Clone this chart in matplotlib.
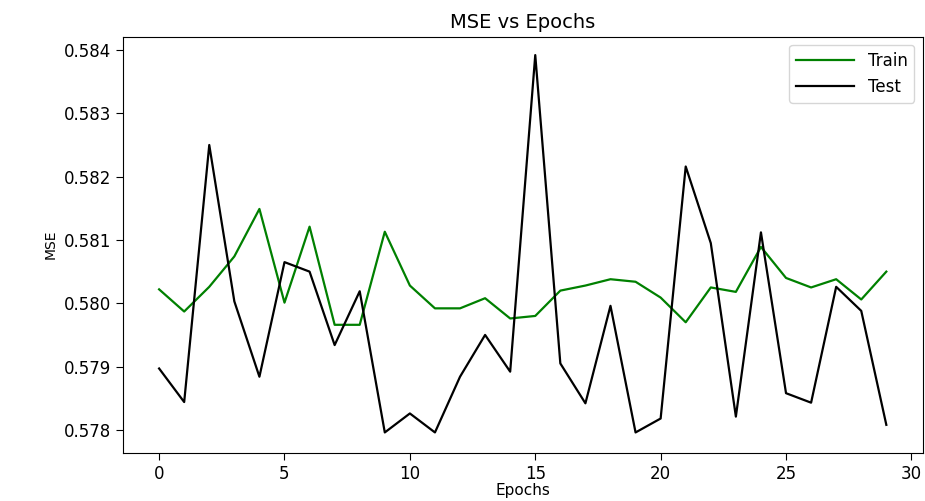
import matplotlib
matplotlib.use("Agg")
import matplotlib.pyplot as plt

epochs = list(range(30))
train_mse = [0.58022, 0.57987, 0.58026, 0.58074, 0.58149, 0.58001, 0.58121, 0.57966, 0.57966, 0.58113,
             0.58028, 0.57992, 0.57992, 0.58008, 0.57976, 0.57980, 0.58020, 0.58028, 0.58038, 0.58034,
             0.58009, 0.57970, 0.58025, 0.58018, 0.58089, 0.58040, 0.58025, 0.58038, 0.58006, 0.58050]
test_mse = [0.57897, 0.57844, 0.58250, 0.58003, 0.57884, 0.58065, 0.58050, 0.57934, 0.58019, 0.57796,
            0.57826, 0.57796, 0.57884, 0.57950, 0.57892, 0.58392, 0.57905, 0.57842, 0.57996, 0.57796,
            0.57818, 0.58216, 0.58095, 0.57821, 0.58112, 0.57858, 0.57843, 0.58026, 0.57988, 0.57808]
xticks = [0, 5, 10, 15, 20, 25, 30]
yticks = [0.578, 0.579, 0.580, 0.581, 0.582, 0.583, 0.584]

fig = plt.figure(figsize=(9.25, 5.01), dpi=100)
ax = fig.add_axes([0.1327, 0.0964, 0.9975 - 0.1327, 0.9267 - 0.0964])
ax.plot(epochs, train_mse, color="green", lw=1.6, label="Train")
ax.plot(epochs, test_mse, color="black", lw=1.6, label="Test")
ax.set_xticks(xticks)
ax.set_yticks(yticks)
ax.set_yticklabels([f"{v:.3f}" for v in yticks])
ax.set_ylim(0.57764, 0.58421)
ax.tick_params(labelsize=12, length=5)
ax.set_title("MSE vs Epochs", fontsize=14)
ax.set_xlabel("Epochs", fontsize=11, labelpad=0)
ax.set_ylabel("MSE", fontsize=10)
ax.legend(loc="upper right", fontsize=12, handlelength=3.5)
fig.savefig("out.png", dpi=100)
